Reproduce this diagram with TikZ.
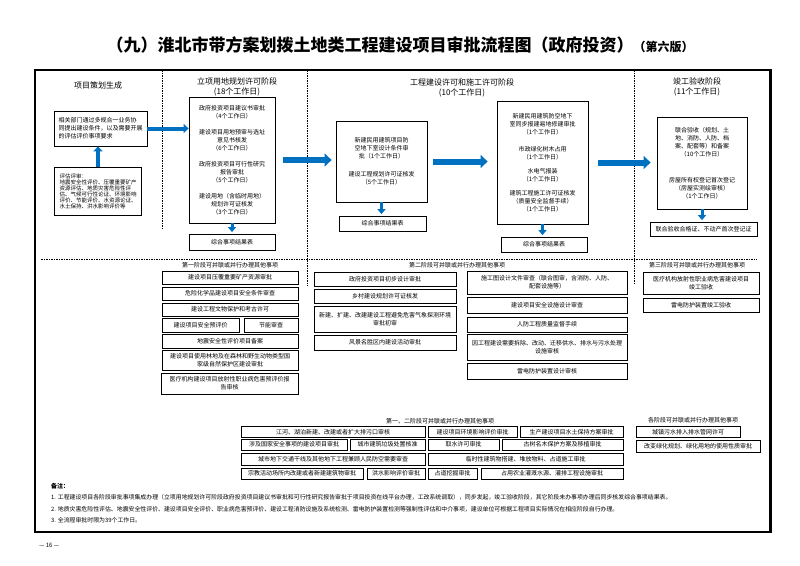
\documentclass[tikz,border=0pt]{standalone}
\usepackage{fontspec}
\setmainfont{Noto Sans CJK SC}
\usetikzlibrary{arrows.meta}
\definecolor{flowblue}{RGB}{0,112,192}

\begin{document}
\begin{tikzpicture}[x=1pt, y=-1pt, every node/.style={font=\fontsize{6}{8}\selectfont, inner sep=1pt}]
  \tikzstyle{box}=[draw,line width=0.8pt,fill=white,align=center]
  \tikzstyle{item}=[box,line width=0.9pt]
  \tikzstyle{head}=[font=\fontsize{8}{10}\selectfont,align=center]
  \tikzstyle{sep}=[dash pattern=on 1.5pt off 1pt,line width=0.6pt]
  \tikzstyle{bigarrow}=[draw=flowblue,line width=6pt,-{Triangle[width=13pt,length=7pt]}]
  \tikzstyle{midarrow}=[draw=flowblue,line width=4pt,-{Triangle[width=9pt,length=5pt]}]
  \tikzstyle{smallarrow}=[draw=flowblue,line width=3pt,-{Triangle[width=8pt,length=5pt]},shorten >=1.5pt]
  \useasboundingbox (0,0) rectangle (800,565);
  \node[font=\fontsize{17}{20}\selectfont\bfseries] (title) at (400,45) {（九）淮北市带方案划拨土地类工程建设项目审批流程图（政府投资）{\fontsize{12}{14}\selectfont（第六版）}};
  \draw[line width=2pt] (35,70) rectangle (770,532);
  \draw[line width=3pt] (770.5,69) -- (770.5,533);
  \draw[sep] (162,70) -- (162,228);
  \draw[sep] (307,70) -- (307,286);
  \draw[sep] (634,70) -- (634,285);
  \draw[sep] (41,259) -- (757,259);

  \node[head] (h1) at (98,85) {项目策划生成};
  \node[head] (h2) at (237,87) {立项用地规划许可阶段\\(18个工作日)};
  \node[head] (h3) at (462,88) {工程建设许可和施工许可阶段\\(10个工作日)};
  \node[head] (h4) at (697,87) {竣工验收阶段\\(11个工作日)};

  \node[box,align=left,minimum width=93pt,minimum height=35pt] (plan) at (100.5,128.5) {相关部门通过多规合一业务协\\同提出建设条件，以及需要开展\\的评估评价事项要求};
  \node[box,align=left,font=\fontsize{5.5}{6}\selectfont,minimum width=87pt,minimum height=48pt] (eval) at (98,191) {评估评审：\\地震安全性评价、压覆重要矿产\\资源评估、地质灾害危险性评\\估、气候可行性论证、环境影响\\评价、节能评价、水资源论证、\\水土保持、洪水影响评价等};
  \node[box,minimum width=86pt,minimum height=126pt] (lx) at (232,160) {政府投资项目建议书审批\\（4个工作日）\\[8pt]建设项目用地预审与选址\\意见书核发\\（6个工作日）\\[8pt]政府投资项目可行性研究\\报告审批\\（5个工作日）\\[8pt]建设用地（含临时用地）\\规划许可证核发\\（3个工作日）};
  \node[box,minimum width=86pt,minimum height=16pt] (r2) at (232,242) {综合事项结果表};
  \node[box,minimum width=91pt,minimum height=81pt] (gc1) at (381.5,161.5) {新建民用建筑项目防\\空地下室设计条件审\\批（1个工作日）\\[10pt]建设工程规划许可证核发\\（5个工作日）};
  \node[box,minimum width=87pt,minimum height=15pt] (r3a) at (382.5,223.5) {综合事项结果表};
  \node[box,minimum width=91pt,minimum height=123pt] (gc2) at (542.5,162.5) {新建民用建筑防空地下\\室同步报建易地修建审批\\（1个工作日）\\[9pt]市政绿化树木占用\\（1个工作日）\\[6pt]水电气报装\\（1个工作日）\\[6pt]建筑工程施工许可证核发\\（质量安全监督手续）\\（1个工作日）};
  \node[box,minimum width=86pt,minimum height=15pt] (r3b) at (544,244.5) {综合事项结果表};
  \node[box,minimum width=90pt,minimum height=92pt] (ys) at (702,163) {联合验收（规划、土\\地、消防、人防、档\\案、配套等）和备案\\（10个工作日）\\[18pt]房屋所有权登记首次登记\\（房屋实测绘审核）\\（1个工作日）};
  \node[box,minimum width=107pt,minimum height=14pt] (r4) at (703.5,229) {联合验收合格证、不动产首次登记证};

  \draw[midarrow] (eval.north) -- (eval.north |- plan.south);
  \draw[midarrow] (plan.east) -- (plan.east -| lx.west);
  \draw[bigarrow,shorten <=8pt,shorten >=4pt] (lx.east) -- (lx.east -| gc1.west);
  \draw[bigarrow,shorten <=6pt,shorten >=9pt] (gc1.east) -- (gc1.east -| gc2.west);
  \draw[bigarrow,shorten <=10pt,shorten >=6pt] (gc2.east) -- (gc2.east -| ys.west);
  \draw[smallarrow] (lx.south) -- (r2.north);
  \draw[smallarrow] (gc1.south) -- (gc1.south |- r3a.north);
  \draw[smallarrow] (gc2.south) -- (gc2.south |- r3b.north);
  \draw[smallarrow] (ys.south) -- (ys.south |- r4.north);

  \node (s1) at (230,265) {第一阶段可并联或并行办理其他事项};
  \node[item,minimum width=136pt,minimum height=13pt] (a1) at (230,277.5) {建设项目压覆重要矿产资源审批};
  \node[item,minimum width=136pt,minimum height=13pt] (a2) at (230,293.5) {危险化学品建设项目安全条件审查};
  \node[item,minimum width=136pt,minimum height=13pt] (a3) at (230,309.5) {建设工程文物保护和考古许可};
  \node[item,minimum width=77pt,minimum height=14pt] (a4) at (200.5,325) {建设项目安全预评价};
  \node[item,minimum width=54pt,minimum height=14pt] (a5) at (271,325) {节能审查};
  \node[item,minimum width=136pt,minimum height=14pt] (a6) at (230,341) {地震安全性评价项目备案};
  \node[item,minimum width=136pt,minimum height=20pt] (a7) at (230,360) {建设项目使用林地及在森林和野生动物类型国\\家级自然保护区建设审批};
  \node[item,minimum width=137pt,minimum height=21pt] (a8) at (229.5,383.5) {医疗机构建设项目放射性职业病危害预评价报\\告审核};

  \node (s2) at (457,265) {第二阶段可并联或并行办理其他事项};
  \node[item,minimum width=142pt,minimum height=14pt] (b1) at (385,279) {政府投资项目初步设计审批};
  \node[item,minimum width=142pt,minimum height=14pt] (b2) at (385,296) {乡村建设规划许可证核发};
  \node[item,minimum width=142pt,minimum height=26pt] (b3) at (385,319) {新建、扩建、改建建设工程避免危害气象探测环境\\审批初审};
  \node[item,minimum width=142pt,minimum height=15pt] (b4) at (385,342.5) {风景名胜区内建设活动审批};
  \node[item,minimum width=160pt,minimum height=23pt] (b5) at (547,282.5) {施工图设计文件审查（联合图审，含消防、人防、\\配套设施等）};
  \node[item,minimum width=160pt,minimum height=16pt] (b6) at (547,305) {建设项目安全设施设计审查};
  \node[item,minimum width=160pt,minimum height=15pt] (b7) at (547,324.5) {人防工程质量监督手续};
  \node[item,minimum width=160pt,minimum height=26pt] (b8) at (547,347) {因工程建设需要拆除、改动、迁移供水、排水与污水处理\\设施审核};
  \node[item,minimum width=160pt,minimum height=16pt] (b9) at (547,371) {雷电防护装置设计审核};

  \node (s3) at (697,265) {第三阶段可并联或并行办理其他事项};
  \node[item,minimum width=116pt,minimum height=22pt] (c1) at (701,283) {医疗机构放射性职业病危害建设项目\\竣工验收};
  \node[item,minimum width=116pt,minimum height=14pt] (c2) at (701,305) {雷电防护装置竣工验收};

  \node (s4) at (440,421) {第一、二阶段可并联或并行办理其他事项};
  \node[item,minimum width=184pt,minimum height=11pt] (d1) at (333,432) {江河、湖泊新建、改建或者扩大排污口审核};
  \node[item,minimum width=89pt,minimum height=11pt] (d2) at (472.5,432) {建设项目环境影响评价审批};
  \node[item,minimum width=103pt,minimum height=11pt] (d3) at (571.5,432) {生产建设项目水土保持方案审批};
  \node[item,minimum width=106pt,minimum height=11pt] (d4) at (294,444.5) {涉及国家安全事项的建设项目审批};
  \node[item,minimum width=75pt,minimum height=11pt] (d5) at (387.5,444.5) {城市建筑垃圾处置核准};
  \node[item,minimum width=71pt,minimum height=11pt] (d6) at (463.5,444.5) {取水许可审批};
  \node[item,minimum width=121pt,minimum height=11pt] (d7) at (562.5,444.5) {古树名木保护方案及移植审批};
  \node[item,minimum width=184pt,minimum height=12pt] (d8) at (333,459) {城市地下交通干线及其他地下工程兼顾人民防空需要审查};
  \node[item,minimum width=195pt,minimum height=12pt] (d9) at (525.5,459) {临时性建筑物搭建、堆放物料、占道施工审批};
  \node[item,minimum width=122pt,minimum height=11pt] (d10) at (302,473.5) {宗教活动场所内改建或者新建建筑物审批};
  \node[item,minimum width=58pt,minimum height=11pt] (d11) at (396,473.5) {洪水影响评价审批};
  \node[item,minimum width=49pt,minimum height=11pt] (d12) at (452.5,473.5) {占道挖掘审批};
  \node[item,minimum width=142pt,minimum height=11pt] (d13) at (552,473.5) {占用农业灌溉水源、灌排工程设施审批};

  \node (s5) at (693,420) {各阶段可并联或并行办理其他事项};
  \node[item,minimum width=104pt,minimum height=11pt] (e1) at (688,432) {城镇污水排入排水管网许可};
  \node[item,minimum width=124pt,minimum height=12pt] (e2) at (698,446) {改变绿化规划、绿化用地的使用性质审批};

  \node[anchor=west,font=\fontsize{6}{8}\selectfont\bfseries] (note) at (50,486) {备注：};
  \node[anchor=west,font=\fontsize{5.9}{7}\selectfont] (n1) at (50,497.5) {1. 工程建设项目各阶段审批事项集成办理（立项用地规划许可阶段政府投资项目建议书审批和可行性研究报告审批于项目投资在线平台办理，工改系统调取），同步发起，竣工验收阶段，其它阶段未办事项办理后同步核发综合事项结果表。};
  \node[anchor=west,font=\fontsize{5.9}{7}\selectfont] (n2) at (50,509) {2. 地质灾害危险性评估、地震安全性评价、建设项目安全评价、职业病危害预评价、建设工程消防设施及系统检测、雷电防护装置检测等强制性评估和中介事项，建设单位可根据工程项目实际情况在相应阶段自行办理。};
  \node[anchor=west,font=\fontsize{5.9}{7}\selectfont] (n3) at (50,520.5) {3. 全流程审批时限为39个工作日。};
  \node[anchor=west] (page) at (38,545) {— 16 —};
\end{tikzpicture}
\end{document}
